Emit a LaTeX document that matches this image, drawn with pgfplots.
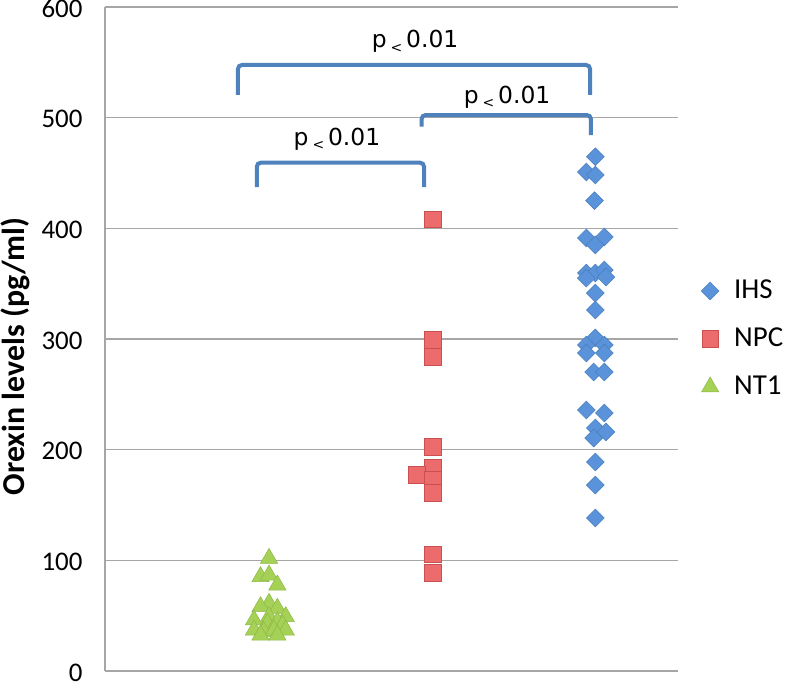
\documentclass[border=0pt]{standalone}
\usepackage{fontspec}
\setmainfont{Carlito}
\newfontfamily\pfont{DejaVu Sans}
\usepackage{pgfplots}
\pgfplotsset{compat=1.18}

\definecolor{ihsFill}{HTML}{5B93DB}
\definecolor{ihsLine}{HTML}{4A7EBB}
\definecolor{npcFill}{HTML}{EC6B6D}
\definecolor{npcLine}{HTML}{C9504E}
\definecolor{nt1Fill}{HTML}{A5D256}
\definecolor{nt1Line}{HTML}{8CB845}
\definecolor{brk}{HTML}{4F81BD}
\definecolor{gridc}{HTML}{A6A6A6}

% x = group (1 NT1, 2 NPC, 3 IHS) plus jitter, y = orexin pg/ml
\pgfplotstableread{
x y
2.995 464.7
2.940 450.9
2.995 448.2
2.990 425.0
2.940 391.3
3.050 392.2
2.995 385.0
2.940 359.6
2.995 359.6
3.050 362.3
3.060 356.0
2.940 355.0
2.995 341.5
2.995 326.2
2.995 301.0
2.940 294.6
3.050 294.6
2.940 287.3
3.050 287.3
2.985 270.2
3.050 270.2
2.940 235.8
3.050 233.1
2.995 219.6
3.060 216.0
2.985 210.5
2.995 188.8
2.995 168.0
2.995 138.3
}\ihs

\pgfplotstableread{
x y
2.000 408.2
2.000 299.0
2.000 284.0
2.000 202.7
2.000 184.0
1.902 177.1
2.000 172.6
2.000 161.0
2.000 105.5
2.000 89.0
}\npc

\pgfplotstableread{
x y
1.002 101.8
0.950 85.2
1.002 86.7
1.053 77.7
1.002 61.2
0.950 58.1
1.053 56.7
1.104 49.1
1.002 49.1
0.910 46.1
0.992 43.1
1.053 44.5
1.084 41.6
0.910 37.0
0.970 35.5
1.032 37.0
1.104 37.0
0.950 32.5
1.053 32.5
}\ntone

\begin{document}
\begin{tikzpicture}
\path[use as bounding box] (0,0) rectangle (787bp,684bp);
\begin{axis}[
  at={(105bp,13bp)}, anchor=south west,
  width=573bp, height=664bp, scale only axis,
  xmin=0, xmax=3.5, ymin=0, ymax=600,
  ytick={0,100,...,600}, xtick=\empty,
  axis lines*=left,
  axis line style={draw=gridc, line width=1.3bp},
  ymajorgrids=true,
  grid style={draw=gridc, line width=1.3bp},
  major tick length=0pt,
  /pgf/number format/assume math mode=true,
  yticklabel style={font=\fontsize{27}{29}\selectfont, anchor=east, xshift=-19bp, yshift=-1.5bp},
  ylabel={\bfseries Orexin levels (pg/ml)},
  ylabel style={font=\fontsize{32}{34}\selectfont, at={(axis description cs:-0.157,0.474)}, anchor=center},
  clip=false,
  legend style={at={(axis description cs:1,0.5)}, anchor=west, xshift=17bp,
    draw=none, fill=none, font=\fontsize{29}{31}\selectfont,
    nodes={inner sep=3bp, text height=19bp, text depth=3bp}, row sep=20bp},
  legend cell align=left,
  legend image code/.code={\path[draw=none, fill=none] (0bp,-1bp) rectangle (33bp,1bp);
    \path[#1, draw=none] plot[only marks] coordinates {(12bp,0bp)};},
]
  \addplot[only marks, mark=square*, mark size=6.3bp,
    mark options={rotate=45, fill=ihsFill, draw=ihsLine, line width=0.5bp}] table[x=x, y=y] {\ihs};
  \addplot[only marks, mark=square*, mark size=8.4bp,
    mark options={fill=npcFill, draw=npcLine, line width=0.5bp}] table[x=x, y=y] {\npc};
  \addplot[only marks, mark=triangle*, mark size=10bp,
    mark options={fill=nt1Fill, draw=nt1Line, line width=0.5bp}] table[x=x, y=y] {\ntone};
  \legend{IHS, NPC, NT1}

  % significance brackets
  \draw[brk, line width=4bp, rounded corners=4bp]
    (axis cs:0.812,520.5) -- (axis cs:0.812,547.6) -- (axis cs:2.963,547.6) -- (axis cs:2.963,520.5);
  \draw[brk, line width=4bp, rounded corners=4bp]
    (axis cs:1.934,491.8) -- (axis cs:1.934,502.4) -- (axis cs:2.968,502.4) -- (axis cs:2.968,484.3);
  \draw[brk, line width=4bp, rounded corners=4bp]
    (axis cs:0.927,437.3) -- (axis cs:0.927,459.3) -- (axis cs:1.949,459.3) -- (axis cs:1.949,437.3);

  \node[font=\pfont\fontsize{23.5}{25}\selectfont, anchor=base] at (axis cs:1.894,563)
    {p\,\raisebox{-0.35ex}{\fontsize{14}{14}\selectfont <}\,0.01};
  \node[font=\pfont\fontsize{23.5}{25}\selectfont, anchor=base] at (axis cs:2.456,513)
    {p\,\raisebox{-0.35ex}{\fontsize{14}{14}\selectfont <}\,0.01};
  \node[font=\pfont\fontsize{23.5}{25}\selectfont, anchor=base] at (axis cs:1.417,475)
    {p\,\raisebox{-0.35ex}{\fontsize{14}{14}\selectfont <}\,0.01};
\end{axis}
\end{tikzpicture}
\end{document}
